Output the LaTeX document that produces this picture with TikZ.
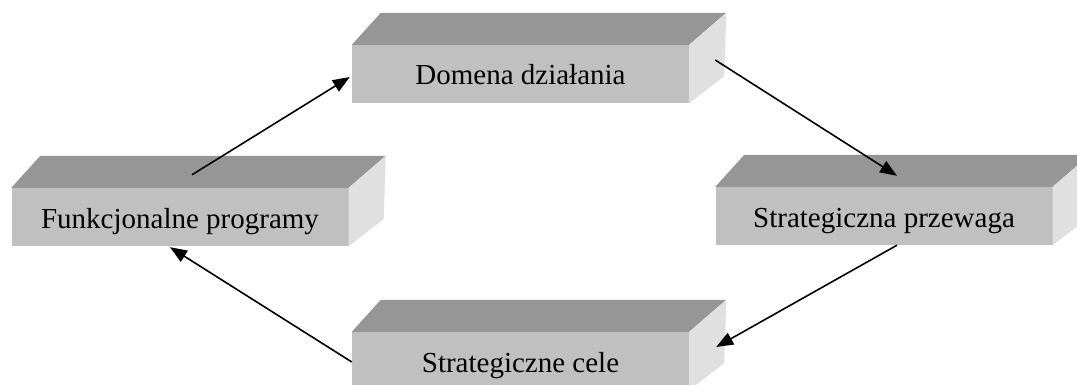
\documentclass[tikz,border=0pt]{standalone}
\usepackage{fontspec}
\setmainfont{Liberation Serif}
\usetikzlibrary{arrows.meta,calc}
\definecolor{frontgray}{HTML}{C0C0C0}
\definecolor{topgray}{HTML}{969696}
\definecolor{sidegray}{HTML}{E0E0E0}

\tikzset{
  face/.style={fill=frontgray, minimum width=337pt, minimum height=58pt,
    inner sep=0pt, text height=22pt, text depth=0pt,
    font=\fontsize{29}{34}\selectfont},
  flow/.style={line width=1.6pt, -{Triangle[length=17pt,width=13pt]}}
}

% A slab: front face as a named node, with top and right faces behind it
\newcommand\slab[4]{%
  \node[face] (#1) at (#2,#3) {#4};
  \fill[topgray] (#1.north west) -- ++(29,-32)
    -- ($(#1.north east)+(37,-32)$) -- (#1.north east) -- cycle;
  \fill[sidegray] (#1.north east) -- ++(37,-32)
    -- ($(#1.south east)+(35,-27)$) -- (#1.south east) -- cycle;
}

\begin{document}
\begin{tikzpicture}[x=1pt,y=-1pt]
  \useasboundingbox (0,0) rectangle (1077,385);
  \clip (0,0) rectangle (1077,385);
  \fill[white] (0,0) rectangle (1077,385);

  \slab{dom}{520.5}{74}{Domena działania}
  \slab{fun}{180}{217}{Funkcjonalne programy}
  \slab{prz}{884}{216}{Strategiczna przewaga}
  \slab{cel}{520.5}{361}{Strategiczne cele}

  \draw[flow] ($(fun.north)+(12,-13)$) -- ($(dom.west)+(-2,3)$);
  \draw[flow] ($(dom.east)+(26,-14)$) -- ($(prz.north)+(13,-11)$);
  \draw[flow] ($(prz.south)+(13,0)$) -- ($(cel.east)+(27,-14)$);
  \draw[flow] ($(cel.west)+(0,1)$) -- ($(fun.south)+(-10,1)$);
\end{tikzpicture}
\end{document}
